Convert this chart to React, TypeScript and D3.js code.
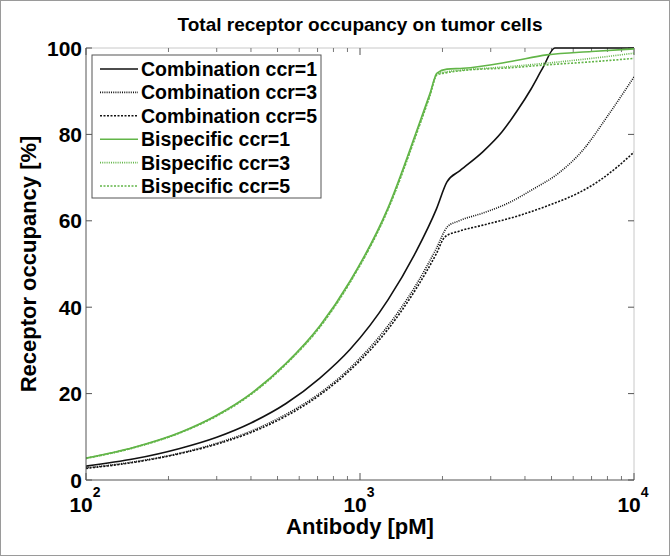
import React from "react";
import * as d3 from "d3";

const W = 670, H = 556;
const M = { left: 86, right: 634, top: 48, bottom: 480 };

// Antibody concentration [pM] and receptor occupancy [%]
const combo1X = [100, 150, 220, 300, 400, 537, 714, 919, 1265, 1600, 1900, 2077, 2317, 2812, 3300, 3741, 4200, 4656, 5140, 6000, 8000, 10000];
const combo1Y = [3.2, 4.9, 7.3, 9.9, 13.2, 17.7, 23.6, 30.2, 41.7, 52.8, 62.7, 69, 71.6, 76, 80.6, 85.4, 90.4, 95.5, 100, 100, 100, 100];

const combo3X = [100, 150, 220, 300, 400, 537, 714, 919, 1265, 1600, 1900, 2083, 2300, 2812, 3500, 4276, 5300, 6516, 8000, 10000];
const combo3Y = [2.8, 4.2, 6.2, 8.5, 11.3, 15.2, 20.1, 25.9, 35.7, 45.1, 53.6, 58.6, 60, 61.8, 64.2, 67.3, 71, 76.4, 84.2, 93.3];

const combo5X = [100, 150, 220, 300, 400, 537, 714, 919, 1265, 1600, 1900, 2042, 2300, 2812, 3800, 4933, 6200, 7517, 8700, 10000];
const combo5Y = [2.7, 4.1, 6.1, 8.3, 11, 14.8, 19.7, 25.4, 34.9, 44.2, 52.4, 56.3, 57.6, 59, 61.2, 63.7, 66.3, 69.4, 72.5, 75.9];

const bis1X = [100, 150, 220, 300, 400, 537, 714, 919, 1265, 1614, 1801, 1910, 2077, 2377, 3500, 4808, 7000, 10000];
const bis1Y = [5.1, 7.6, 11, 15, 20, 27, 35.7, 46, 63, 81, 89.5, 94.2, 95.1, 95.3, 96.8, 98.4, 99.2, 99.8];

const bis3X = [100, 150, 220, 300, 400, 537, 714, 919, 1265, 1614, 1801, 1910, 2077, 2377, 3500, 4808, 7000, 10000];
const bis3Y = [5.0, 7.5, 10.9, 14.9, 19.9, 26.9, 35.5, 45.8, 62.7, 80.6, 89.2, 94.0, 94.5, 94.9, 95.7, 96.5, 97.6, 98.8];

const bis5X = [100, 150, 220, 300, 400, 537, 714, 919, 1265, 1614, 1801, 1910, 2077, 2377, 3500, 4808, 7000, 10000];
const bis5Y = [5.0, 7.5, 10.9, 14.8, 19.8, 26.8, 35.4, 45.7, 62.6, 80.4, 89.0, 93.8, 94.3, 94.8, 95.4, 96.1, 96.8, 97.6];

const seriesNames = ["Combination ccr=1", "Combination ccr=3", "Combination ccr=5", "Bispecific ccr=1", "Bispecific ccr=3", "Bispecific ccr=5"];
const yTicks = [0, 20, 40, 60, 80, 100];
const xMajor = [100, 1000, 10000];
const xExp = ["2", "3", "4"];
const title = "Total receptor occupancy on tumor cells";
const xLabel = "Antibody [pM]";
const yLabel = "Receptor occupancy [%]";

const BLACK = "#111";
const GREEN = "#62b548";
const FONT = "'Liberation Sans', Arial, Helvetica, sans-serif";

export default function App() {
  const x = d3.scaleLog().domain([100, 10000]).range([M.left, M.right]);
  const y = d3.scaleLinear().domain([0, 100]).range([M.bottom, M.top]);
  const line = d3
    .line<[number, number]>()
    .x((d) => x(d[0]))
    .y((d) => y(d[1]))
    .curve(d3.curveMonotoneX);

  const zip = (a: number[], b: number[]) => a.map((v, i) => [v, b[i]] as [number, number]);
  const series = [
    { data: zip(combo1X, combo1Y), color: BLACK, dash: "" },
    { data: zip(combo3X, combo3Y), color: BLACK, dash: "1,1.2" },
    { data: zip(combo5X, combo5Y), color: BLACK, dash: "2,1.5" },
    { data: zip(bis1X, bis1Y), color: GREEN, dash: "" },
    { data: zip(bis3X, bis3Y), color: GREEN, dash: "1,1.2" },
    { data: zip(bis5X, bis5Y), color: GREEN, dash: "2,1.5" },
  ];

  const minor: number[] = [];
  [100, 1000].forEach((b) => {
    for (let k = 2; k <= 9; k++) minor.push(b * k);
  });

  const legX = 92, legY = 55, legW = 229, legH = 143;

  return (
    <svg width={W} height={H} style={{ position: "absolute", left: 0, top: 0, background: "#fff" }} fontFamily={FONT}>
      <rect x={0.5} y={0.5} width={W - 1} height={H - 1} fill="#fff" stroke="#9a9a9a" />
      <defs>
        <clipPath id="plot">
          <rect x={M.left} y={M.top - 2} width={M.right - M.left} height={M.bottom - M.top + 2} />
        </clipPath>
      </defs>
      {/* box top/right */}
      <line x1={M.left} x2={M.right} y1={M.top} y2={M.top} stroke="#c8c8c8" />
      <line x1={M.right} x2={M.right} y1={M.top} y2={M.bottom} stroke="#c8c8c8" />
      {/* ticks */}
      {yTicks.map((t) => (
        <g key={"yt" + t}>
          <line x1={M.left} x2={M.left + 6} y1={y(t)} y2={y(t)} stroke="#555" />
          <line x1={M.right - 6} x2={M.right} y1={y(t)} y2={y(t)} stroke="#555" />
          <text x={82} y={y(t) + 7.5} textAnchor="end" fontSize={21} fontWeight="bold" fill="#000">
            {t}
          </text>
        </g>
      ))}
      {xMajor.map((t, i) => (
        <g key={"xt" + t}>
          <line x1={x(t)} x2={x(t)} y1={M.bottom} y2={M.bottom - 7} stroke="#555" />
          <line x1={x(t)} x2={x(t)} y1={M.top} y2={M.top + 7} stroke="#555" />
          <text x={x(t) - 1} y={512} textAnchor="middle" fontSize={21} fontWeight="bold" fill="#000">
            <tspan>10</tspan>
            <tspan fontSize={14} dy={-15}>{xExp[i]}</tspan>
          </text>
        </g>
      ))}
      {minor.map((t) => (
        <g key={"mt" + t}>
          <line x1={x(t)} x2={x(t)} y1={M.bottom} y2={M.bottom - 4} stroke="#777" />
          <line x1={x(t)} x2={x(t)} y1={M.top} y2={M.top + 4} stroke="#777" />
        </g>
      ))}
      {/* curves */}
      <g clipPath="url(#plot)">
        {series.map((s, i) => (
          <path key={i} d={line(s.data) || ""} fill="none" stroke={s.color} strokeWidth={1.6} strokeDasharray={s.dash || undefined} />
        ))}
      </g>
      {/* axes left/bottom */}
      <line x1={M.left} x2={M.left} y1={M.top} y2={M.bottom} stroke="#555" />
      <line x1={M.left} x2={M.right} y1={M.bottom} y2={M.bottom} stroke="#555" />
      {/* legend */}
      <rect x={legX} y={legY} width={legW} height={legH} fill="#fff" stroke="#555" />
      {seriesNames.map((n, i) => {
        const cy = 69 + i * 23.4;
        const s = series[i];
        return (
          <g key={n}>
            <line x1={100} x2={138} y1={cy} y2={cy} stroke={s.color} strokeWidth={1.6} strokeDasharray={s.dash || undefined} />
            <text x={141} y={cy + 7} fontSize={19.5} fontWeight="bold" fill="#000">
              {n}
            </text>
          </g>
        );
      })}
      {/* labels */}
      <text x={(M.left + M.right) / 2} y={31} textAnchor="middle" fontSize={19} fontWeight="bold" fill="#000">
        {title}
      </text>
      <text x={(M.left + M.right) / 2} y={534} textAnchor="middle" fontSize={22} fontWeight="bold" fill="#000">
        {xLabel}
      </text>
      <text transform={`translate(36,${(M.top + M.bottom) / 2}) rotate(-90)`} textAnchor="middle" fontSize={22} fontWeight="bold" fill="#000">
        {yLabel}
      </text>
    </svg>
  );
}
